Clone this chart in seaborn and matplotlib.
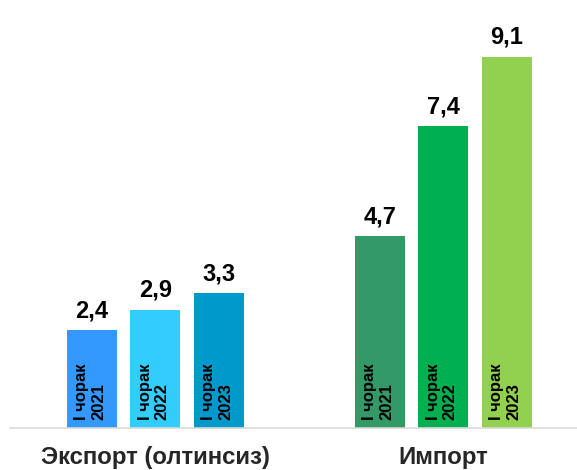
import pandas as pd
import numpy as np
import seaborn as sns
import matplotlib.pyplot as plt

# chart values
groups = ['Экспорт (олтинсиз)', 'Импорт']
periods = ['I чорак\n2021', 'I чорак\n2022', 'I чорак\n2023']
export_vals = [2.4, 2.9, 3.3]
import_vals = [4.7, 7.4, 9.1]
export_colors = ['#3399FF', '#33CCFF', '#0099CC']
import_colors = ['#339966', '#00B050', '#92D050']

df = pd.DataFrame({
    'group': [groups[0]] * 3 + [groups[1]] * 3,
    'period': periods * 2,
    'value': export_vals + import_vals,
})

sns.set_style('white')
plt.rcParams['font.family'] = ['Liberation Sans', 'DejaVu Sans']

fig = plt.figure(figsize=(5.77, 4.7), dpi=100)
ax = fig.add_axes([10 / 577, 42 / 470, 567 / 577, 428 / 470])

sns.barplot(data=df, x='group', y='value', hue='period', order=groups,
            hue_order=periods, width=0.66, gap=0.21, ax=ax, legend=False)

# recolor each bar by group
bar_colors = {}
for patch in ax.patches:
    if patch.get_height() == 0:
        continue
    xc = patch.get_x() + patch.get_width() / 2
    grp = 0 if xc < 0.5 else 1
    bar_colors.setdefault(grp, []).append(patch)

for grp, colors in [(0, export_colors), (1, import_colors)]:
    bars = sorted(bar_colors[grp], key=lambda p: p.get_x())
    for patch, c, per in zip(bars, colors, periods):
        patch.set_facecolor(c)
        patch.set_edgecolor('none')
        xc = patch.get_x() + patch.get_width() / 2
        h = patch.get_height()
        ax.text(xc, h + 0.2, f'{h:.1f}'.replace('.', ','), ha='center', va='bottom',
                fontsize=17, fontweight='bold', color='black')
        ax.text(xc - 0.006, 0.2, per, rotation=90, ha='center', va='bottom',
                fontsize=12, fontweight='bold', color='black', linespacing=1.15,
                multialignment='left')

ax.set_xlim(-0.505, 1.464)
ax.set_ylim(0, 10.5)
ax.set_xlabel('')
ax.set_ylabel('')
ax.set_yticks([])
ax.tick_params(axis='x', length=0, pad=13)
for lbl in ax.get_xticklabels():
    lbl.set_fontsize(17.3)
    lbl.set_fontweight('bold')

for s in ['top', 'right', 'left']:
    ax.spines[s].set_visible(False)
ax.spines['bottom'].set_color('#D9D9D9')
ax.spines['bottom'].set_linewidth(1.2)

fig.savefig('out.png', dpi=100)
